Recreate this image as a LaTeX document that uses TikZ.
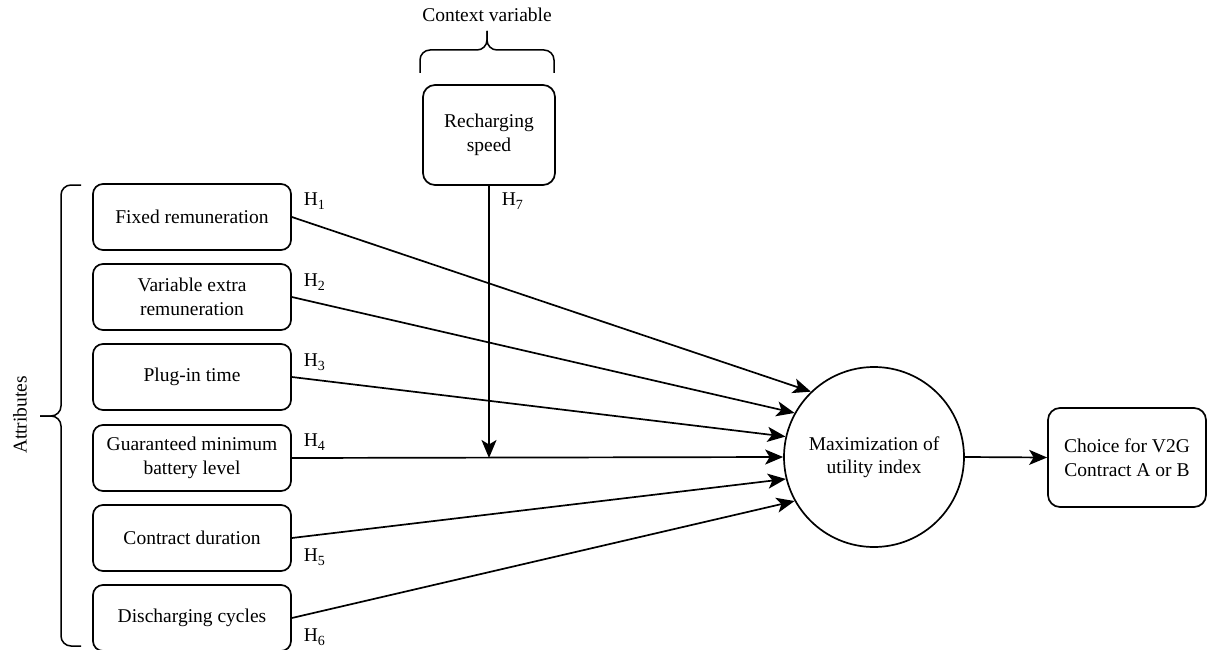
\documentclass[tikz,border=0pt]{standalone}
\usepackage{fontspec}
\setmainfont{Liberation Serif}
\usetikzlibrary{arrows.meta}
\newcommand{\Hs}[1]{H\raisebox{-0.45ex}{\fontsize{14}{14}\selectfont #1}}
\begin{document}
\begin{tikzpicture}[x=1pt,y=-1pt,
  line width=1.7pt,
  every node/.style={font=\fontsize{19.5}{23.5}\selectfont},
  attr/.style={draw,rounded corners=10pt,minimum width=198pt,minimum height=66pt,align=center,inner sep=2pt},
  arr/.style={-{Stealth[length=18pt,width=15pt,inset=4.5pt]}},
  hlab/.style={anchor=west,inner sep=0pt}]
\useasboundingbox (0,0) rectangle (1207,650);
% attribute boxes
\node[attr] (b1) at (192,217) {Fixed remuneration};
\node[attr] (b2) at (192,297) {Variable extra\\remuneration};
\node[attr] (b3) at (192,377) {Plug-in time};
\node[attr] (b4) at (192,458) {Guaranteed minimum\\battery level};
\node[attr] (b5) at (192,538) {Contract duration};
\node[attr] (b6) at (192,618) {Discharging cycles};
% context
\node[draw,rounded corners=12pt,minimum width=132pt,minimum height=100pt,align=center] (rec) at (489,135) {Recharging\\speed};
\node (ctx) at (487,15) {Context variable};
% circle and choice
\node[draw,circle,minimum size=180pt,inner sep=0pt,align=center] (c) at (874,457) {Maximization of\\utility index};
\node[draw,rounded corners=12pt,minimum width=158pt,minimum height=99pt,align=center] (ch) at (1127,457.5) {Choice for V2G\\Contract A or B};
% braces
\draw[line width=1.5pt,rounded corners=10pt] (420,73) -- (420,50) -- (487,50) -- (487,31);
\draw[line width=1.5pt,rounded corners=10pt] (487,31) -- (487,50) -- (554,50) -- (554,73);
\draw[line width=1.5pt,rounded corners=10pt] (81,185) -- (61,185) -- (61,416) -- (40,416);
\draw[line width=1.5pt,rounded corners=10pt] (40,416) -- (61,416) -- (61,646) -- (81,646);
\node[rotate=90] (attrlab) at (20,415) {Attributes};
% arrows
\draw[arr] (b1.east) -- (c.134);
\draw[arr] (b2.east) -- (c.151);
\draw[arr] (b3.east) -- (c.167);
\draw[arr] (b4.east) -- (c.180);
\draw[arr] (b5.east) -- (c.194);
\draw[arr] (b6.east) -- (c.209);
\coordinate (j) at (rec.south |- b4.east);
\draw[arr] (rec.south) -- (j);
\draw[arr] (c.east) -- (ch.west);
% labels
\node[hlab] (h1) at (303,201) {\Hs{1}};
\node[hlab] (h2) at (303,282) {\Hs{2}};
\node[hlab] (h3) at (303,362) {\Hs{3}};
\node[hlab] (h4) at (303,442) {\Hs{4}};
\node[hlab] (h5) at (303,557) {\Hs{5}};
\node[hlab] (h6) at (303,637) {\Hs{6}};
\node[hlab] (h7) at (501,201) {\Hs{7}};
\end{tikzpicture}
\end{document}
